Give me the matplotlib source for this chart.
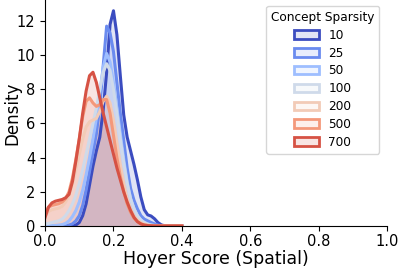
import matplotlib
matplotlib.use("Agg")
import matplotlib.pyplot as plt
import numpy as np
from matplotlib.patches import Patch
from matplotlib.colors import to_rgba

# Hoyer score grid (x) and density curves
hoyer = [round(0.01 * i, 2) for i in range(41)]  # 0.00 .. 0.40

levels = ["10", "25", "50", "100", "200", "500", "700"]

dens_10 = [0, 0, 0, 0, 0, 0, 0, 0, 0.02, 0.05,
           0.2, 0.6, 1.3, 2.4, 3.5, 4.4, 5.2, 6.8, 9.0, 11.8,
           12.6, 11.2, 8.8, 6.5, 5.2, 4.4, 3.6, 2.7, 1.7, 0.95,
           0.65, 0.58, 0.42, 0.2, 0.06, 0.01, 0, 0, 0, 0, 0]
dens_25 = [0, 0, 0, 0, 0, 0, 0.02, 0.05, 0.12, 0.3,
           0.6, 1.2, 2.1, 3.2, 4.3, 5.4, 7.0, 9.4, 11.7, 11.3,
           10.2, 8.4, 6.6, 5.0, 3.4, 2.2, 1.5, 1.0, 0.6, 0.4,
           0.3, 0.2, 0.12, 0.05, 0.02, 0, 0, 0, 0, 0, 0]
dens_50 = [0.03, 0.03, 0.03, 0.03, 0.05, 0.08, 0.15, 0.3, 0.55, 0.9,
           1.4, 2.1, 3.0, 4.0, 5.1, 6.3, 7.8, 9.3, 10.1, 9.6,
           8.4, 6.9, 5.4, 3.9, 2.6, 1.6, 1.0, 0.6, 0.35, 0.2,
           0.12, 0.06, 0.03, 0.01, 0, 0, 0, 0, 0, 0, 0]
dens_100 = [0.1, 0.15, 0.2, 0.25, 0.3, 0.4, 0.6, 0.9, 1.3, 1.8,
            2.5, 3.3, 4.2, 5.1, 6.0, 6.9, 8.0, 9.0, 9.5, 9.1,
            8.0, 6.6, 5.1, 3.7, 2.5, 1.6, 1.0, 0.6, 0.35, 0.2,
            0.1, 0.05, 0.02, 0, 0, 0, 0, 0, 0, 0, 0]
dens_200 = [0.6, 0.85, 0.95, 1.0, 1.05, 1.15, 1.4, 1.8, 2.5, 3.3,
            4.2, 5.1, 5.8, 6.1, 6.2, 6.3, 6.7, 7.3, 7.6, 7.2,
            6.2, 4.9, 3.6, 2.5, 1.6, 1.0, 0.6, 0.35, 0.2, 0.1,
            0.05, 0.02, 0.01, 0, 0, 0, 0, 0, 0, 0, 0]
dens_500 = [0.8, 1.1, 1.2, 1.25, 1.3, 1.4, 1.6, 2.0, 2.8, 3.9,
            5.1, 6.4, 7.3, 7.5, 7.2, 7.0, 7.1, 7.4, 7.4, 6.6,
            5.3, 4.0, 2.9, 2.0, 1.3, 0.8, 0.45, 0.25, 0.12, 0.06,
            0.03, 0.01, 0, 0, 0, 0, 0, 0, 0, 0, 0]
dens_700 = [0.5, 1.1, 1.35, 1.45, 1.5, 1.55, 1.65, 1.85, 2.6, 3.8,
            5.1, 6.6, 7.9, 8.8, 9.0, 8.4, 7.5, 6.6, 5.8, 5.0,
            4.2, 3.4, 2.7, 2.0, 1.4, 0.9, 0.5, 0.25, 0.12, 0.05,
            0.02, 0.01, 0, 0, 0, 0, 0, 0, 0, 0, 0]

densities = [dens_10, dens_25, dens_50, dens_100, dens_200, dens_500, dens_700]

x_ticks = [0.0, 0.2, 0.4, 0.6, 0.8, 1.0]
y_ticks = [0, 2, 4, 6, 8, 10, 12]

colors = plt.cm.coolwarm(np.linspace(0, 0.9, len(levels)))

fig = plt.figure(figsize=(3.99, 2.68), dpi=100)
ax = fig.add_axes([0.113, 0.157, 0.857, 0.843])

fill_alpha = 0.15
for lev, d, c in zip(levels, densities, colors):
    ax.fill_between(hoyer, 0, d, color=c, alpha=fill_alpha, linewidth=0)
    ax.plot(hoyer, d, color=c, linewidth=2.2)

ax.set_xlim(0, 1.0)
ax.set_ylim(0, 13.23)
ax.set_xticks(x_ticks)
ax.set_xticklabels([f"{v:.1f}" for v in x_ticks])
ax.set_yticks(y_ticks)
ax.tick_params(labelsize=10.5)
ax.tick_params(axis="x", pad=2)
ax.set_xlabel("Hoyer Score (Spatial)", fontsize=12.5, labelpad=1)
ax.set_ylabel("Density", fontsize=12)
ax.yaxis.set_label_coords(-0.07, 0.5)
for s in ["top", "right"]:
    ax.spines[s].set_visible(False)

handles = [Patch(facecolor=to_rgba(c, fill_alpha), edgecolor=c, linewidth=2.0)
           for c in colors]
ax.legend(handles, levels, title="Concept Sparsity", loc="upper right",
          fontsize=8.7, title_fontsize=8.7, bbox_to_anchor=(0.995, 1.0),
          labelspacing=0.4)

fig.savefig("out.png", dpi=100)
